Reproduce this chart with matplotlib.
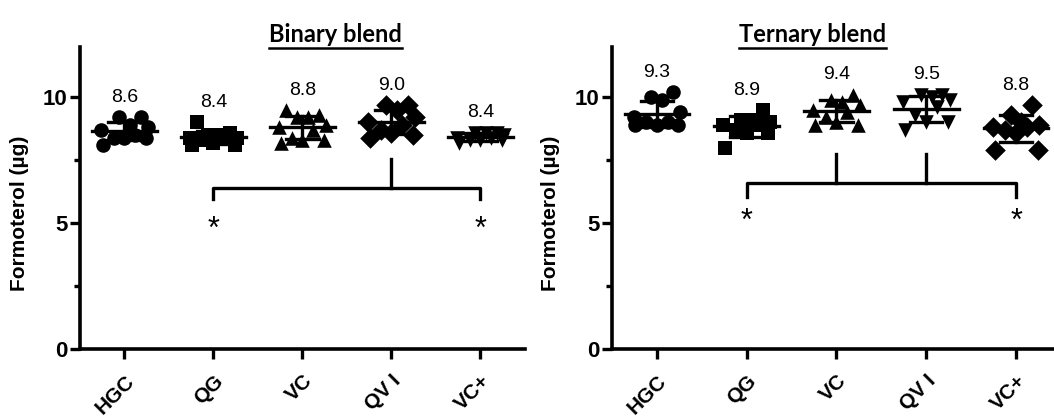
import matplotlib
matplotlib.use('Agg')
import matplotlib.pyplot as plt
import numpy as np

groups = ['HGC', 'QG', 'VC', 'QV I', 'VC+']

# binary blend, formoterol per capsule (ug)
binary_hgc = [9.2, 9.2, 8.9, 8.8, 8.7, 8.5, 8.4, 8.4, 8.1, 8.4]
binary_qg = [9.0, 8.6, 8.5, 8.5, 8.4, 8.4, 8.3, 8.2, 8.1, 8.1, 8.4]
binary_vc = [9.5, 9.3, 9.2, 9.2, 8.9, 8.8, 8.7, 8.4, 8.3, 8.3, 8.2]
binary_qvi = [9.7, 9.7, 9.5, 9.2, 9.0, 8.9, 8.7, 8.6, 8.5, 8.4]
binary_vcp = [8.6, 8.6, 8.6, 8.5, 8.4, 8.4, 8.3, 8.3, 8.2, 8.3]

# ternary blend
ternary_hgc = [10.2, 10.0, 9.9, 9.4, 9.0, 9.2, 9.0, 8.9, 8.9, 8.9]
ternary_qg = [9.5, 9.1, 9.1, 9.0, 8.9, 8.9, 8.7, 8.6, 8.6, 8.0]
ternary_vc = [10.1, 9.9, 9.8, 9.7, 9.5, 9.4, 9.2, 9.0, 8.9, 8.9]
ternary_qvi = [10.1, 10.1, 10.0, 9.9, 9.8, 9.6, 9.3, 9.0, 9.0, 8.7]
ternary_vcp = [9.7, 9.3, 9.0, 8.9, 8.8, 8.8, 8.7, 8.6, 7.9, 7.9]

binary_means = ['8.6', '8.4', '8.8', '9.0', '8.4']
ternary_means = ['9.3', '8.9', '9.4', '9.5', '8.8']

binary_markers = ['o', 's', '^', 'D', 'v']
ternary_markers = ['o', 's', '^', 'v', 'D']

plt.rcParams['font.family'] = ['Liberation Sans', 'DejaVu Sans']

fig = plt.figure(figsize=(10.54, 4.19), dpi=100)
ax1 = fig.add_axes([0.0759, 0.167, 0.4222, 0.721])
ax2 = fig.add_axes([0.5806, 0.167, 0.4260, 0.721])

jitter = [-0.24, 0.24, 0.0, -0.12, 0.12, -0.26, 0.26, 0.06, -0.06, 0.18, -0.18]


def draw_panel(ax, data, markers, labels, title, title_x):
    for i, vals in enumerate(data):
        vals = np.array(vals)
        order = np.argsort(vals)
        xs = np.zeros(len(vals))
        for k, idx in enumerate(order):
            xs[idx] = i + jitter[k % len(jitter)]
        ax.scatter(xs, vals, marker=markers[i], s=110, color='black', zorder=3,
                   linewidths=0)
        m = vals.mean()
        sd = vals.std(ddof=1)
        ax.plot([i - 0.36, i + 0.36], [m, m], color='black', lw=2.4, zorder=4)
        ax.plot([i, i], [m - sd, m + sd], color='black', lw=2.4, zorder=4)
        for yy in (m - sd, m + sd):
            ax.plot([i - 0.18, i + 0.18], [yy, yy], color='black', lw=2.4, zorder=4)
        ax.text(i, vals.max() + 0.45, labels[i], ha='center', va='bottom',
                fontsize=14)

    ax.set_xlim(-0.5, 4.5)
    ax.set_ylim(0, 12)
    ax.set_yticks([0, 5, 10])
    ax.set_yticks([2.5, 7.5], minor=True)
    ax.set_xticks(range(5))
    ax.set_xticklabels(groups, rotation=45, ha='right', rotation_mode='anchor',
                       fontsize=15, fontweight='bold')
    for t in ax.get_yticklabels():
        t.set_fontweight('bold')
        t.set_fontsize(16)
    ax.tick_params(axis='both', which='major', length=7, width=2.4, pad=2)
    ax.tick_params(axis='x', which='major', pad=9)
    ax.tick_params(axis='y', which='minor', length=4, width=2.4)
    ax.spines['top'].set_visible(False)
    ax.spines['right'].set_visible(False)
    ax.spines['left'].set_linewidth(2.6)
    ax.spines['bottom'].set_linewidth(2.6)
    ax.set_ylabel('Formoterol (µg)', fontsize=15, fontweight='bold')
    ax.yaxis.set_label_coords(-0.115, 0.45)

    t = fig.text(title_x, 0.918, title, ha='center', va='center', fontsize=17,
                 fontweight='bold', family='Lato')
    return t


t1 = draw_panel(ax1, [binary_hgc, binary_qg, binary_vc, binary_qvi, binary_vcp],
                binary_markers, binary_means, 'Binary blend', 0.318)
t2 = draw_panel(ax2, [ternary_hgc, ternary_qg, ternary_vc, ternary_qvi, ternary_vcp],
                ternary_markers, ternary_means, 'Ternary blend', 0.771)

# significance brackets
kw = dict(color='black', lw=2.4, clip_on=False)
ax1.plot([1, 1, 4, 4], [5.95, 6.4, 6.4, 5.95], **kw)
ax1.plot([3, 3], [6.4, 7.55], **kw)
ax1.text(1, 4.75, '*', ha='center', va='center', fontsize=22)
ax1.text(4, 4.75, '*', ha='center', va='center', fontsize=22)

ax2.plot([1, 1, 4, 4], [6.05, 6.6, 6.6, 6.05], **kw)
ax2.plot([2, 2], [6.6, 7.75], **kw)
ax2.plot([3, 3], [6.6, 7.75], **kw)
ax2.text(1, 5.05, '*', ha='center', va='center', fontsize=22)
ax2.text(4, 5.05, '*', ha='center', va='center', fontsize=22)

# underline the titles
fig.canvas.draw()
inv = fig.transFigure.inverted()
for t in (t1, t2):
    bb = t.get_window_extent().transformed(inv)
    fig.add_artist(plt.Line2D([bb.x0, bb.x1], [bb.y0 - 0.004, bb.y0 - 0.004],
                              color='black', lw=1.8, transform=fig.transFigure))

fig.savefig('out.png', dpi=100)
